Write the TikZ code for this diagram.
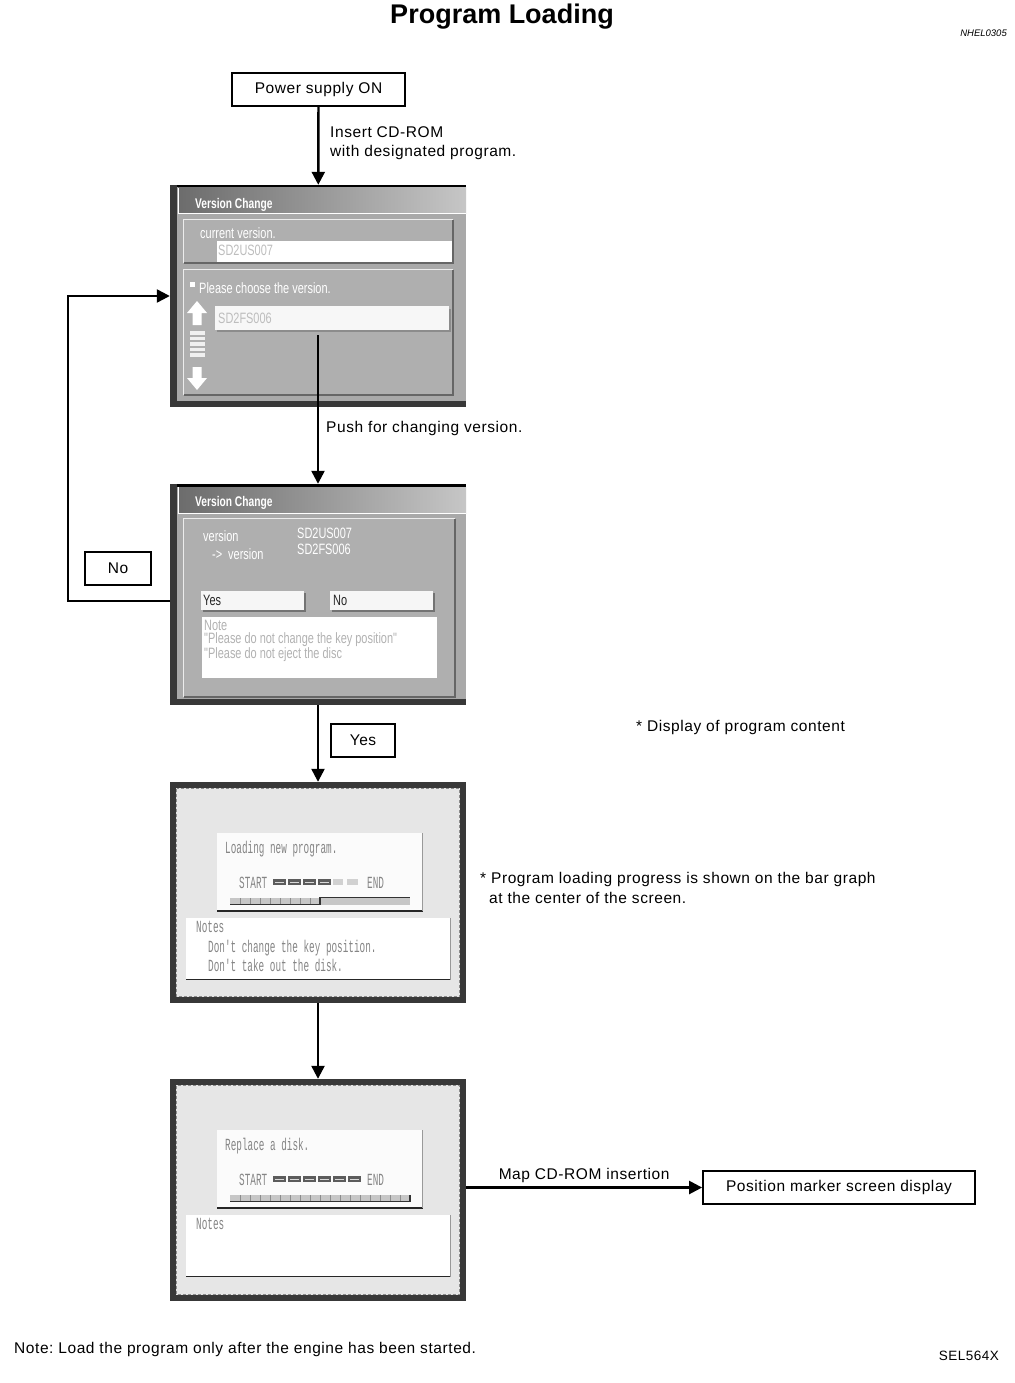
\documentclass[tikz,border=0pt]{standalone}
\usepackage{fontspec}
\setmainfont{Liberation Sans}
\newfontfamily\lab[LetterSpace=3.7]{Liberation Sans}
\newfontfamily\ttlf{Liberation Sans}
\newfontfamily\uif[FakeStretch=0.73]{Liberation Sans}
\newfontfamily\lcdf[FakeStretch=0.55]{Liberation Mono}
\usetikzlibrary{arrows.meta,calc}
\frenchspacing
\definecolor{scrbody}{HTML}{A9A9A9}
\definecolor{panelc}{HTML}{AFAFAF}
\definecolor{framec}{HTML}{383838}
\definecolor{tbdark}{HTML}{6C6C6C}
\definecolor{tblight}{HTML}{C6C6C6}
\definecolor{fieldtxt}{HTML}{BDBDBD}
\definecolor{lcdbg}{HTML}{E6E6E6}
\definecolor{lcdtxt}{HTML}{858585}
\definecolor{bardark}{HTML}{5C5C5C}
\begin{document}
\begin{tikzpicture}[x=1pt,y=-1pt,
  flowbox/.style={draw, line width=1.8pt, inner sep=0pt, font=\lab\fontsize{15.5}{18}\selectfont},
  conn/.style={line width=2.4pt, -{Triangle[width=13pt,length=13pt]}},
  lbl/.style={inner sep=0pt, anchor=west, align=left, font=\lab\fontsize{15.5}{19.5}\selectfont},
  screen/.style={draw=none, minimum width=296pt, minimum height=222pt, inner sep=0pt},
  uitxt/.style={inner sep=0pt, anchor=west, text=white, font=\uif\fontsize{15}{15}\selectfont},
  uititle/.style={inner sep=0pt, anchor=west, text=white, font=\uif\bfseries\fontsize{14}{14}\selectfont},
  fldtxt/.style={inner sep=0pt, anchor=west, text=fieldtxt, font=\uif\fontsize{15}{15}\selectfont},
  lcdtxt/.style={inner sep=0pt, anchor=west, text=lcdtxt, font=\lcdf\fontsize{17}{19.5}\selectfont},
]
\useasboundingbox[fill=white] (0,0) rectangle (1014,1383);

% ---------- titles ----------
\node[inner sep=0pt, font=\ttlf\bfseries\fontsize{27}{30}\selectfont] (title) at (502,17) {Program Loading};
\node[inner sep=0pt, anchor=east, font=\ttlf\itshape\fontsize{9.5}{11}\selectfont] (code) at (1007,33) {NHEL0305};

% ---------- flow boxes ----------
\node[flowbox, minimum width=173pt, minimum height=33pt] (pw) at (318.5,89.5) {Power supply ON};
\node[flowbox, minimum width=66pt, minimum height=33pt] (nob) at (118,568.5) {No};
\node[flowbox, minimum width=64pt, minimum height=33pt] (yesb) at (363,740.5) {Yes};
\node[flowbox, minimum width=272pt, minimum height=33pt] (pm) at (839,1187.5) {Position marker screen display};

% ---------- labels ----------
\node[lbl] (l1) at (330,143) {Insert CD-ROM\\with designated program.};
\node[lbl] (l2) at (326,428.5) {Push for changing version.};
\node[lbl] (l3) at (636,727.5) {* Display of program content};
\node[lbl] (l4) at (480,888) {* Program loading progress is shown on the bar graph\\\hspace*{9pt}at the center of the screen.};
\node[lbl] (l5) at (14,1349.5) {Note: Load the program only after the engine has been started.};
\node[inner sep=0pt, anchor=east, font=\lab\fontsize{13.5}{15}\selectfont] (l6) at (999,1356) {SEL564X};

% ================= SCREEN 1 =================
\node[screen, fill=scrbody] (s1) at (318,296) {};
\fill[black] (170,185) rectangle (466,187.5);
\fill[framec] (170,185) rectangle (177,404);
\fill[framec] (170,401) rectangle (466,407);
\shade[left color=tbdark, right color=tblight] (178,188) rectangle (466,213);
\draw[white, line width=1pt] (178.5,188) -- (178.5,213.5) -- (466,213.5);
\node[uititle] (s1t) at (195,205) {Version Change};
% panel A
\fill[panelc] (183,219) rectangle (453,263);
\draw[white!85!gray, line width=1pt] (183.5,263) -- (183.5,219.5) -- (453,219.5);
\draw[black!60, line width=1.4pt] (183.5,263) -- (453,263) -- (453,219.5);
\fill[white] (217,241) rectangle (452,262);
\node[uitxt] (s1a) at (200,233) {current version.};
\node[fldtxt] (s1b) at (218,250) {SD2US007};
% panel B
\fill[panelc] (183,269) rectangle (453,395);
\draw[white!85!gray, line width=1pt] (183.5,395) -- (183.5,269.5) -- (453,269.5);
\draw[black!60, line width=1.4pt] (183.5,395) -- (453,395) -- (453,269.5);
\fill[white] (190,282) rectangle (195,287);
\node[uitxt] (s1c) at (199,288.5) {Please choose the version.};
\fill[black!45] (217,309) rectangle (451,332);
\fill[white!94!gray] (215,306) rectangle (449,330);
\node[fldtxt] (s1d) at (218,318) {SD2FS006};
% scroll arrows
\fill[white] (197,301) -- (207,313) -- (201.5,313) -- (201.5,325) -- (192.5,325) -- (192.5,313) -- (187,313) -- cycle;
\foreach \yy in {331,336.5,342,347.5,353} \fill[white!88!gray] (190,\yy) rectangle (205,\yy+3.5);
\fill[white] (197,390) -- (207,378) -- (201.5,378) -- (201.5,367) -- (192.5,367) -- (192.5,378) -- (187,378) -- cycle;

% ================= SCREEN 2 =================
\node[screen, minimum height=221pt, fill=scrbody] (s2) at (318,594.5) {};
\fill[black] (170,484) rectangle (466,486.5);
\fill[framec] (170,484) rectangle (177,701);
\fill[framec] (170,699) rectangle (466,705);
\shade[left color=tbdark, right color=tblight] (178,487) rectangle (466,513);
\draw[white, line width=1pt] (178.5,487) -- (178.5,513.5) -- (466,513.5);
\node[uititle] (s2t) at (195,503) {Version Change};
\fill[panelc] (183,518) rectangle (455,697);
\draw[white!85!gray, line width=1pt] (183.5,697) -- (183.5,518.5) -- (455,518.5);
\draw[black!60, line width=1.4pt] (183.5,697) -- (455,697) -- (455,518.5);
\node[uitxt] (s2a) at (203,536) {version};
\node[uitxt] (s2b) at (212,554) {->\hspace{6pt}version};
\node[uitxt] (s2c) at (297,533) {SD2US007};
\node[uitxt] (s2d) at (297,549) {SD2FS006};
% buttons
\fill[black!55] (203,593) rectangle (306,612);
\fill[white!93!gray] (201,591) rectangle (304,610);
\node[uitxt, text=black!85] (s2e) at (203,600) {Yes};
\fill[black!55] (332,593) rectangle (435,612);
\fill[white!93!gray] (330,591) rectangle (433,610);
\node[uitxt, text=black!85] (s2f) at (333,600) {No};
% note box
\fill[white] (202,617) rectangle (437,678);
\node[inner sep=0pt, anchor=north west, align=left, text=black!30, font=\uif\fontsize{15}{13.3}\selectfont] (s2g) at (204,619.5)
  {Note\\"Please do not change the key position"\\"Please do not eject the disc};

% ================= SCREEN 3 =================
\node[screen, minimum height=221pt, fill=framec] (s3) at (318,892.5) {};
\fill[lcdbg] (176,788) rectangle (460,997);
\draw[black!45, densely dashed, line width=0.6pt] (176.5,788.5) rectangle (459.5,996.5);
\fill[white!97!gray] (217,833) rectangle (423,912);
\draw[black!85, line width=1.8pt] (217,911) -- (423,911);
\draw[black!40, line width=1pt] (422.5,833) -- (422.5,911);
\node[lcdtxt] (s3a) at (225,849) {Loading new program.};
\node[lcdtxt] (s3b) at (239,883) {START};
\foreach \xx in {273,288,303,318} {\fill[bardark] (\xx,879) rectangle ++(13,6); \draw[white!70!gray, line width=0.6pt] (\xx+2,882) -- ++(9,0);}
\fill[black!18] (333,879) rectangle ++(10,6);
\fill[black!18] (347,879) rectangle ++(11,6);
\node[lcdtxt] (s3c) at (367,883) {END};
\fill[black!22] (230,898) rectangle (410,905);
\foreach \xx in {240,250,...,310} \draw[black!45, line width=0.5pt] (\xx,898) -- (\xx,904);
\draw[black!80, line width=1.4pt] (230,904.5) -- (320,904.5) -- (320,897.5) -- (410,897.5);
\fill[white] (186,918) rectangle (451,980);
\draw[black!85, line width=1.8pt] (186,979.5) -- (451,979.5);
\draw[black!40, line width=1pt] (450.5,918) -- (450.5,980);
\node[inner sep=0pt, anchor=north west, align=left, text=lcdtxt, font=\lcdf\fontsize{17}{19.5}\selectfont] (s3d) at (196,921)
  {Notes\\\hspace*{12pt}Don't change the key position.\\\hspace*{12pt}Don't take out the disk.};

% ================= SCREEN 4 =================
\node[screen, fill=framec] (s4) at (318,1190) {};
\fill[lcdbg] (176,1085) rectangle (460,1295);
\draw[black!45, densely dashed, line width=0.6pt] (176.5,1085.5) rectangle (459.5,1294.5);
\fill[white!97!gray] (217,1130) rectangle (423,1209);
\draw[black!85, line width=1.8pt] (217,1208) -- (423,1208);
\draw[black!40, line width=1pt] (422.5,1130) -- (422.5,1208);
\node[lcdtxt] (s4a) at (225,1146) {Replace a disk.};
\node[lcdtxt] (s4b) at (239,1180) {START};
\foreach \xx in {273,288,303,318,333,348} {\fill[bardark] (\xx,1176) rectangle ++(13,6); \draw[white!70!gray, line width=0.6pt] (\xx+2,1179) -- ++(9,0);}
\node[lcdtxt] (s4c) at (367,1180) {END};
\fill[black!22] (230,1195) rectangle (410,1202);
\foreach \xx in {240,250,...,400} \draw[black!45, line width=0.5pt] (\xx,1195) -- (\xx,1201);
\draw[black!80, line width=1.4pt] (230,1201.5) -- (410,1201.5) -- (410,1194.5);
\fill[white] (186,1215) rectangle (451,1277);
\draw[black!85, line width=1.8pt] (186,1276.5) -- (451,1276.5);
\draw[black!40, line width=1pt] (450.5,1215) -- (450.5,1277);
\node[inner sep=0pt, anchor=north west, text=lcdtxt, font=\lcdf\fontsize{17}{19.5}\selectfont] (s4d) at (196,1218) {Notes};

% ---------- connectors ----------
\coordinate (c1) at (318,335);
\coordinate (noexit) at (170,601);
\draw[conn] (pw) -- (s1);
\draw[conn] (c1) -- (s2.north);
\draw[conn] (noexit) -- ++(-102,0) |- (s1.west);
\draw[conn] (s2) -- (s3);
\draw[conn] (s3) -- (s4);
\draw[conn] (s4.east |- pm.west) -- node[above=4pt, inner sep=0pt, font=\lab\fontsize{15.5}{18}\selectfont] (mapl) {Map CD-ROM insertion} (pm.west);
\end{tikzpicture}
\end{document}
